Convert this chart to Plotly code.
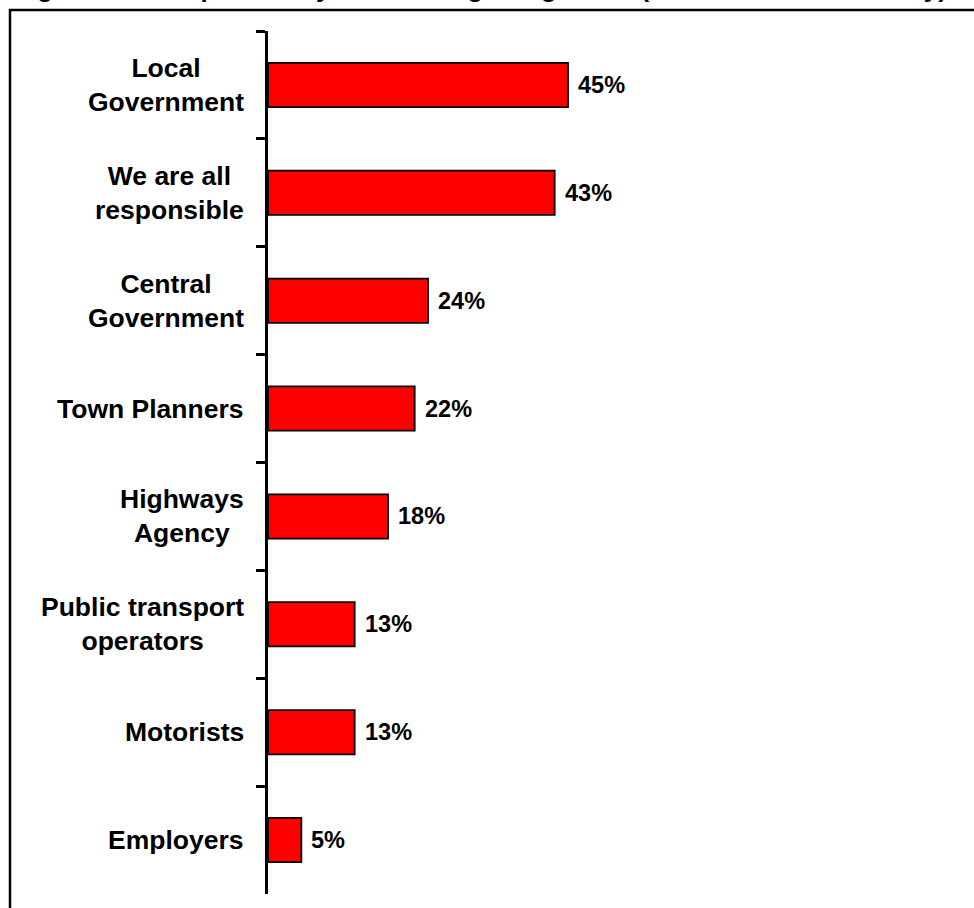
import plotly.graph_objects as go

categories = ["Local<br>Government", "We are all<br>responsible", "Central<br>Government",
              "Town Planners", "Highways<br>Agency", "Public transport<br>operators",
              "Motorists", "Employers"]
values = [45, 43, 24, 22, 18, 13, 13, 5]
value_labels = ["45%", "43%", "24%", "22%", "18%", "13%", "13%", "5%"]
title_text = "Figure 4.1: Responsibility for Tackling Congestion (Stakeholders Summary)"

W, H = 974, 908
L, R, T, B = 268, 6, 31, 14
pw, ph = W - L - R, H - T - B

fig = go.Figure()
fig.add_trace(go.Bar(
    x=values, y=categories, orientation="h",
    marker=dict(color="#FF0000", line=dict(color="#000000", width=1.8)),
    width=0.41, hoverinfo="skip",
))

font = "Arial, Liberation Sans, sans-serif"
ann = []
for c in categories:
    ann.append(dict(x=0, xref="paper", y=c, yref="y", text=c, showarrow=False,
                    xanchor="right", yanchor="middle", align="center", xshift=-22,
                    font=dict(family=font, size=26.5, color="#000000", weight="bold")))
for c, v, t in zip(categories, values, value_labels):
    ann.append(dict(x=v, xref="x", y=c, yref="y", text=t, showarrow=False,
                    xanchor="left", yanchor="middle", xshift=8,
                    font=dict(family=font, size=23.5, color="#000000", weight="bold")))
ann.append(dict(x=(12 - L) / pw, xref="paper", y=1 + (T - 5) / ph, yref="paper",
                text=title_text, showarrow=False, xanchor="left", yanchor="bottom",
                font=dict(family=font, size=26, color="#000000", weight="bold")))

fig.update_layout(
    width=W, height=H,
    margin=dict(l=L, r=R, t=T, b=B),
    paper_bgcolor="#FFFFFF", plot_bgcolor="#FFFFFF",
    showlegend=False,
    xaxis=dict(range=[0, pw / (300 / 45)], visible=False),
    yaxis=dict(autorange="reversed", showticklabels=False, tickson="boundaries",
               ticks="outside", ticklen=9, tickwidth=2.5, tickcolor="#000000",
               showline=True, linecolor="#000000", linewidth=2.5, showgrid=False,
               zeroline=False),
    annotations=ann,
    shapes=[dict(type="rect", xref="paper", yref="paper",
                 x0=(10 - L) / pw, x1=1.2, y0=-0.2, y1=1 + (T - 10) / ph,
                 line=dict(color="#000000", width=2.5))],
)

fig.write_html("out.html", config={"displayModeBar": False},
               post_script="document.body.style.margin='0';document.body.style.overflow='hidden';")
